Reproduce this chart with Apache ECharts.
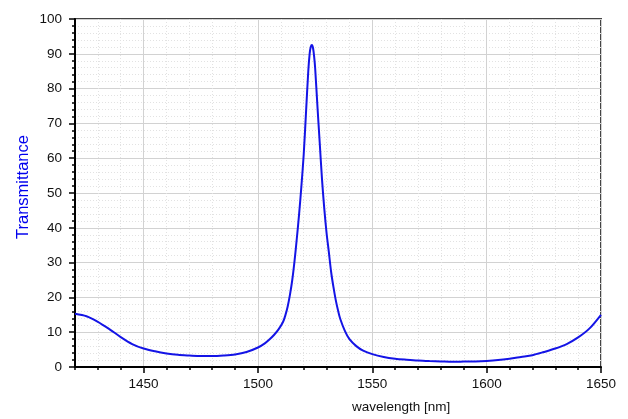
<!DOCTYPE html>
<html>
<head>
<meta charset="utf-8">
<script src="https://cdn.jsdelivr.net/npm/echarts@6/dist/echarts.min.js"></script>
<style>
  html, body { margin: 0; padding: 0; background: #fff; }
  #chart { width: 628px; height: 419px; }
</style>
</head>
<body>
<div id="chart"></div>
<script>
// values
const wavelength = [
  1420, 1425, 1430, 1435, 1440, 1445, 1450, 1455, 1460, 1465, 1470, 1475, 1480,
  1485, 1490, 1495, 1500, 1503, 1505, 1507, 1509, 1511, 1512, 1513, 1514, 1515,
  1516, 1517, 1518, 1519, 1520, 1521, 1522, 1522.6, 1523.1, 1523.6, 1524.1, 1524.6,
  1525, 1526, 1527, 1528, 1529, 1530, 1531, 1532, 1533, 1534, 1535, 1536, 1538,
  1540, 1543, 1546, 1550, 1555, 1560, 1565, 1570, 1575, 1580, 1585, 1590, 1595,
  1600, 1605, 1610, 1615, 1620, 1625, 1630, 1635, 1640, 1645, 1650
];
const transmittance = [
  15.3, 14.6, 13.0, 10.9, 8.6, 6.6, 5.3, 4.5, 3.9, 3.5, 3.3, 3.15, 3.15,
  3.3, 3.6, 4.3, 5.6, 6.8, 7.9, 9.2, 10.8, 13.0, 14.9, 17.4, 20.8, 25.0,
  30.5, 37, 44, 52, 61, 73, 85, 90, 92, 92.5, 91.6, 89,
  86, 75, 64.5, 54, 45.5, 38.5, 33, 27.3, 23, 19.3, 16.3, 13.8, 10.4,
  8.0, 6.0, 4.7, 3.7, 2.9, 2.4, 2.1, 1.85, 1.7, 1.6, 1.5, 1.55, 1.6,
  1.75, 2.0, 2.4, 2.9, 3.4, 4.3, 5.3, 6.6, 8.5, 11.1, 15.0
];
const majorX = [1450, 1500, 1550, 1600, 1650];

const clear = 'rgba(0,0,0,0)';
const minorGrid = '#e2e2e2';
const majorGrid = '#d2d2d2';
const labelFont = { color: '#111', fontSize: 13.5, fontFamily: 'Liberation Sans, Arial, sans-serif' };

const chart = echarts.init(document.getElementById('chart'), null, { renderer: 'canvas' });

chart.setOption({
  animation: false,
  backgroundColor: '#fff',
  grid: {
    left: 75, right: 27, top: 19, bottom: 52,
    show: true, borderColor: '#444', borderWidth: 2, backgroundColor: '#fff'
  },
  xAxis: [
    {
      // minor ticks + dotted grid every 10 nm
      type: 'value', min: 1420, max: 1650, interval: 10, position: 'bottom',
      axisLine: { lineStyle: { color: '#000', width: 2 } },
      axisTick: { length: 3, lineStyle: { color: '#000', width: 1.5 } },
      axisLabel: { show: false },
      splitLine: { show: true, lineStyle: { color: minorGrid, type: [1, 2], width: 1 } }
    },
    {
      // major ticks, labels and solid grid every 50 nm
      type: 'value', min: 1420, max: 1650, interval: 10, position: 'bottom',
      axisLine: { show: false },
      axisTick: { length: 6, customValues: majorX, lineStyle: { color: '#000', width: 1.5 } },
      axisLabel: Object.assign({
        customValues: majorX, margin: 10,
        formatter: v => String(v)
      }, labelFont),
      splitLine: { show: true, lineStyle: { color: majorGrid, width: 1 } }
    }
  ],
  yAxis: {
    type: 'value', min: 0, max: 100, interval: 10,
    axisLine: { show: true, lineStyle: { color: '#000', width: 2 } },
    axisTick: { show: true, length: 6, lineStyle: { color: '#000', width: 1.5 } },
    minorTick: { show: true, splitNumber: 5, length: 3, lineStyle: { color: '#000', width: 1.5 } },
    axisLabel: Object.assign({ margin: 13 }, labelFont),
    splitLine: { show: true, lineStyle: { color: majorGrid, width: 1 } },
    minorSplitLine: { show: true, lineStyle: { color: minorGrid, type: [1, 2], width: 1 } }
  },
  graphic: [
    {
      type: 'text', x: 23, y: 187, rotation: Math.PI / 2,
      style: {
        text: 'Transmittance', fill: '#0000ee', fontSize: 16.5,
        fontFamily: 'Liberation Sans, Arial, sans-serif',
        align: 'center', verticalAlign: 'middle'
      }
    },
    {
      type: 'text', x: 352, y: 407,
      style: {
        text: 'wavelength [nm]', fill: '#111', fontSize: 13.5,
        fontFamily: 'Liberation Sans, Arial, sans-serif',
        align: 'left', verticalAlign: 'middle'
      }
    }
  ],
  series: [
    {
      type: 'line',
      xAxisIndex: 0,
      data: wavelength.map((w, i) => [w, transmittance[i]]),
      showSymbol: false,
      smooth: 0.3,
      lineStyle: { color: '#1414e6', width: 2 },
      z: 5
    }
  ]
});
</script>
</body>
</html>
